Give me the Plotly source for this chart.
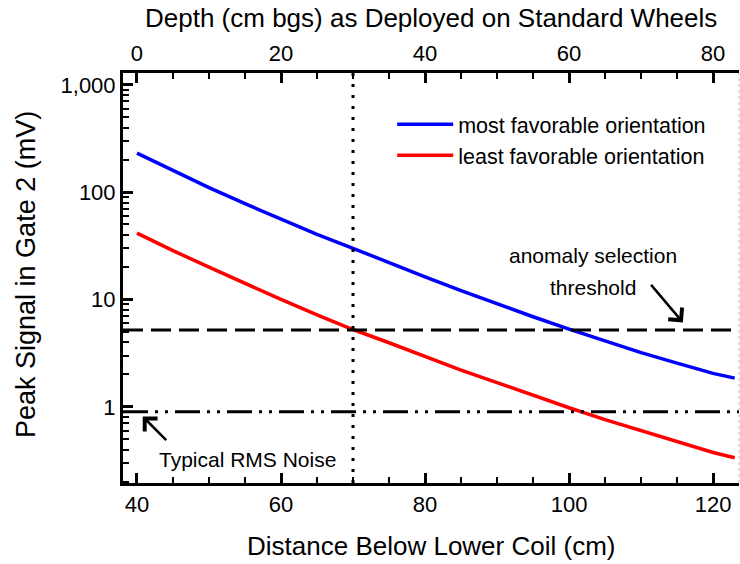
import numpy as np
import plotly.graph_objects as go

# ---- data ----
distance_cm = [40, 45, 50, 55, 60, 65, 70, 75, 80, 85, 90, 95, 100, 105, 110, 115, 120, 123]
most_favorable_mV = [231, 158, 110, 78, 56, 40.5, 30, 22, 16.2, 12.1, 9.1, 6.9, 5.3, 4.1, 3.2, 2.55, 2.05, 1.85]
least_favorable_mV = [41.5, 28.5, 20, 14, 10, 7.2, 5.25, 3.95, 2.95, 2.2, 1.68, 1.28, 0.98, 0.76, 0.6, 0.47, 0.375, 0.335]
series_names = ["most favorable orientation", "least favorable orientation"]
wheel_offset_cm = 40          # depth = distance - offset
threshold_mV = 5.2
noise_mV = 0.9
marker_distance_cm = 70

x_tick_vals = [40, 60, 80, 100, 120]
x_minor_vals = [45, 50, 55, 65, 70, 75, 85, 90, 95, 105, 110, 115]
depth_tick_vals = [0, 20, 40, 60, 80]
depth_minor_vals = [5, 10, 15, 25, 30, 35, 45, 50, 55, 65, 70, 75]
y_tick_vals = [1, 10, 100, 1000]
y_tick_text = ["1", "10", "100", "1,000"]

x_range = [38.06, 123.6]
y_range_log = [-0.71, 3.11]

FONT = "Liberation Sans, Arial, sans-serif"

y_minor_vals = [m * 10 ** e for e in range(-1, 4) for m in range(2, 10)]

fig = go.Figure()
fig.add_trace(go.Scatter(x=distance_cm, y=most_favorable_mV, mode="lines",
                         line=dict(color="#0000ff", width=3.5), name=series_names[0]))
fig.add_trace(go.Scatter(x=distance_cm, y=least_favorable_mV, mode="lines",
                         line=dict(color="#ff0000", width=3.5), name=series_names[1]))
# invisible trace to anchor the depth axis
depth = [d - wheel_offset_cm for d in distance_cm]
fig.add_trace(go.Scatter(x=depth, y=most_favorable_mV, xaxis="x2", mode="lines",
                         line=dict(width=0), opacity=0, showlegend=False, hoverinfo="skip"))

# reference lines
fig.add_shape(type="line", xref="paper", x0=0, x1=1, yref="y", y0=threshold_mV, y1=threshold_mV,
              line=dict(color="black", width=3, dash="20px,8px"))
fig.add_shape(type="line", xref="paper", x0=0, x1=1, yref="y", y0=noise_mV, y1=noise_mV,
              line=dict(color="black", width=3, dash="25px,7px,3px,7px,3px,7px"))
fig.add_shape(type="line", xref="x", x0=marker_distance_cm, x1=marker_distance_cm, yref="paper", y0=0, y1=1,
              line=dict(color="black", width=3, dash="3px,8px"))
fig.add_shape(type="line", xref="paper", x0=1, x1=1, yref="paper", y0=0, y1=1,
              line=dict(color="#bbbbbb", width=1, dash="dot"))

axis_common = dict(showgrid=False, zeroline=False, showline=True, linecolor="black", linewidth=3,
                   ticks="inside", ticklen=10, tickwidth=3, tickcolor="black",
                   tickfont=dict(family=FONT, size=22, color="black"))

fig.update_layout(
    width=740, height=564,
    margin=dict(l=123, r=1, t=73, b=81),
    paper_bgcolor="white", plot_bgcolor="white",
    font=dict(family=FONT, color="black"),
    xaxis=dict(range=x_range, tickvals=x_tick_vals,
               minor=dict(tickvals=x_minor_vals, ticks="inside", ticklen=6, tickwidth=2, tickcolor="black"),
               **axis_common),
    xaxis2=dict(overlaying="x", side="top", anchor="y",
                range=[x_range[0] - wheel_offset_cm, x_range[1] - wheel_offset_cm],
                tickvals=depth_tick_vals,
                minor=dict(tickvals=depth_minor_vals, ticks="inside", ticklen=6, tickwidth=2, tickcolor="black"),
                **axis_common),
    yaxis=dict(type="log", range=y_range_log, tickvals=y_tick_vals, ticktext=y_tick_text,
               minor=dict(tickvals=y_minor_vals, ticks="inside", ticklen=6, tickwidth=2, tickcolor="black"),
               **axis_common),
    legend=dict(x=0.437, y=0.925, xanchor="left", yanchor="top", bgcolor="rgba(0,0,0,0)",
                font=dict(family=FONT, size=21.5, color="black"), itemwidth=56),
    showlegend=True,
)

annotations = [
    dict(text="Depth (cm bgs) as Deployed on Standard Wheels", xref="paper", yref="paper",
         x=0.5, y=1, yshift=55, xanchor="center", yanchor="middle", showarrow=False, font=dict(size=26)),
    dict(text="Distance Below Lower Coil (cm)", xref="paper", yref="paper",
         x=0.5, y=0, yshift=-63, xanchor="center", yanchor="middle", showarrow=False, font=dict(size=26)),
    dict(text="Peak Signal in Gate 2 (mV)", xref="paper", yref="paper", textangle=-90,
         x=0, xshift=-97, y=0.5, yshift=3, xanchor="center", yanchor="middle", showarrow=False, font=dict(size=27)),
    dict(text="anomaly selection", xref="x", yref="y", x=103.3, y=1.41, showarrow=False, font=dict(size=21)),
    dict(text="threshold", xref="x", yref="y", x=103.3, y=1.11, showarrow=False, font=dict(size=21)),
    dict(text="Typical RMS Noise", xref="x", yref="y", x=55.4, y=-0.495, showarrow=False, font=dict(size=21)),
    dict(text="", xref="x", yref="y", x=115.8, y=np.log10(threshold_mV) + 0.07, ax=-33, ay=-39,
         showarrow=True, arrowhead=4, arrowsize=1.4, arrowwidth=2.5, arrowcolor="black"),
    dict(text="", xref="x", yref="y", x=40.8, y=np.log10(noise_mV) - 0.045, ax=25, ay=25,
         showarrow=True, arrowhead=4, arrowsize=1.4, arrowwidth=2.5, arrowcolor="black"),
]
fig.update_layout(annotations=annotations)

fig.write_html("out.html")
